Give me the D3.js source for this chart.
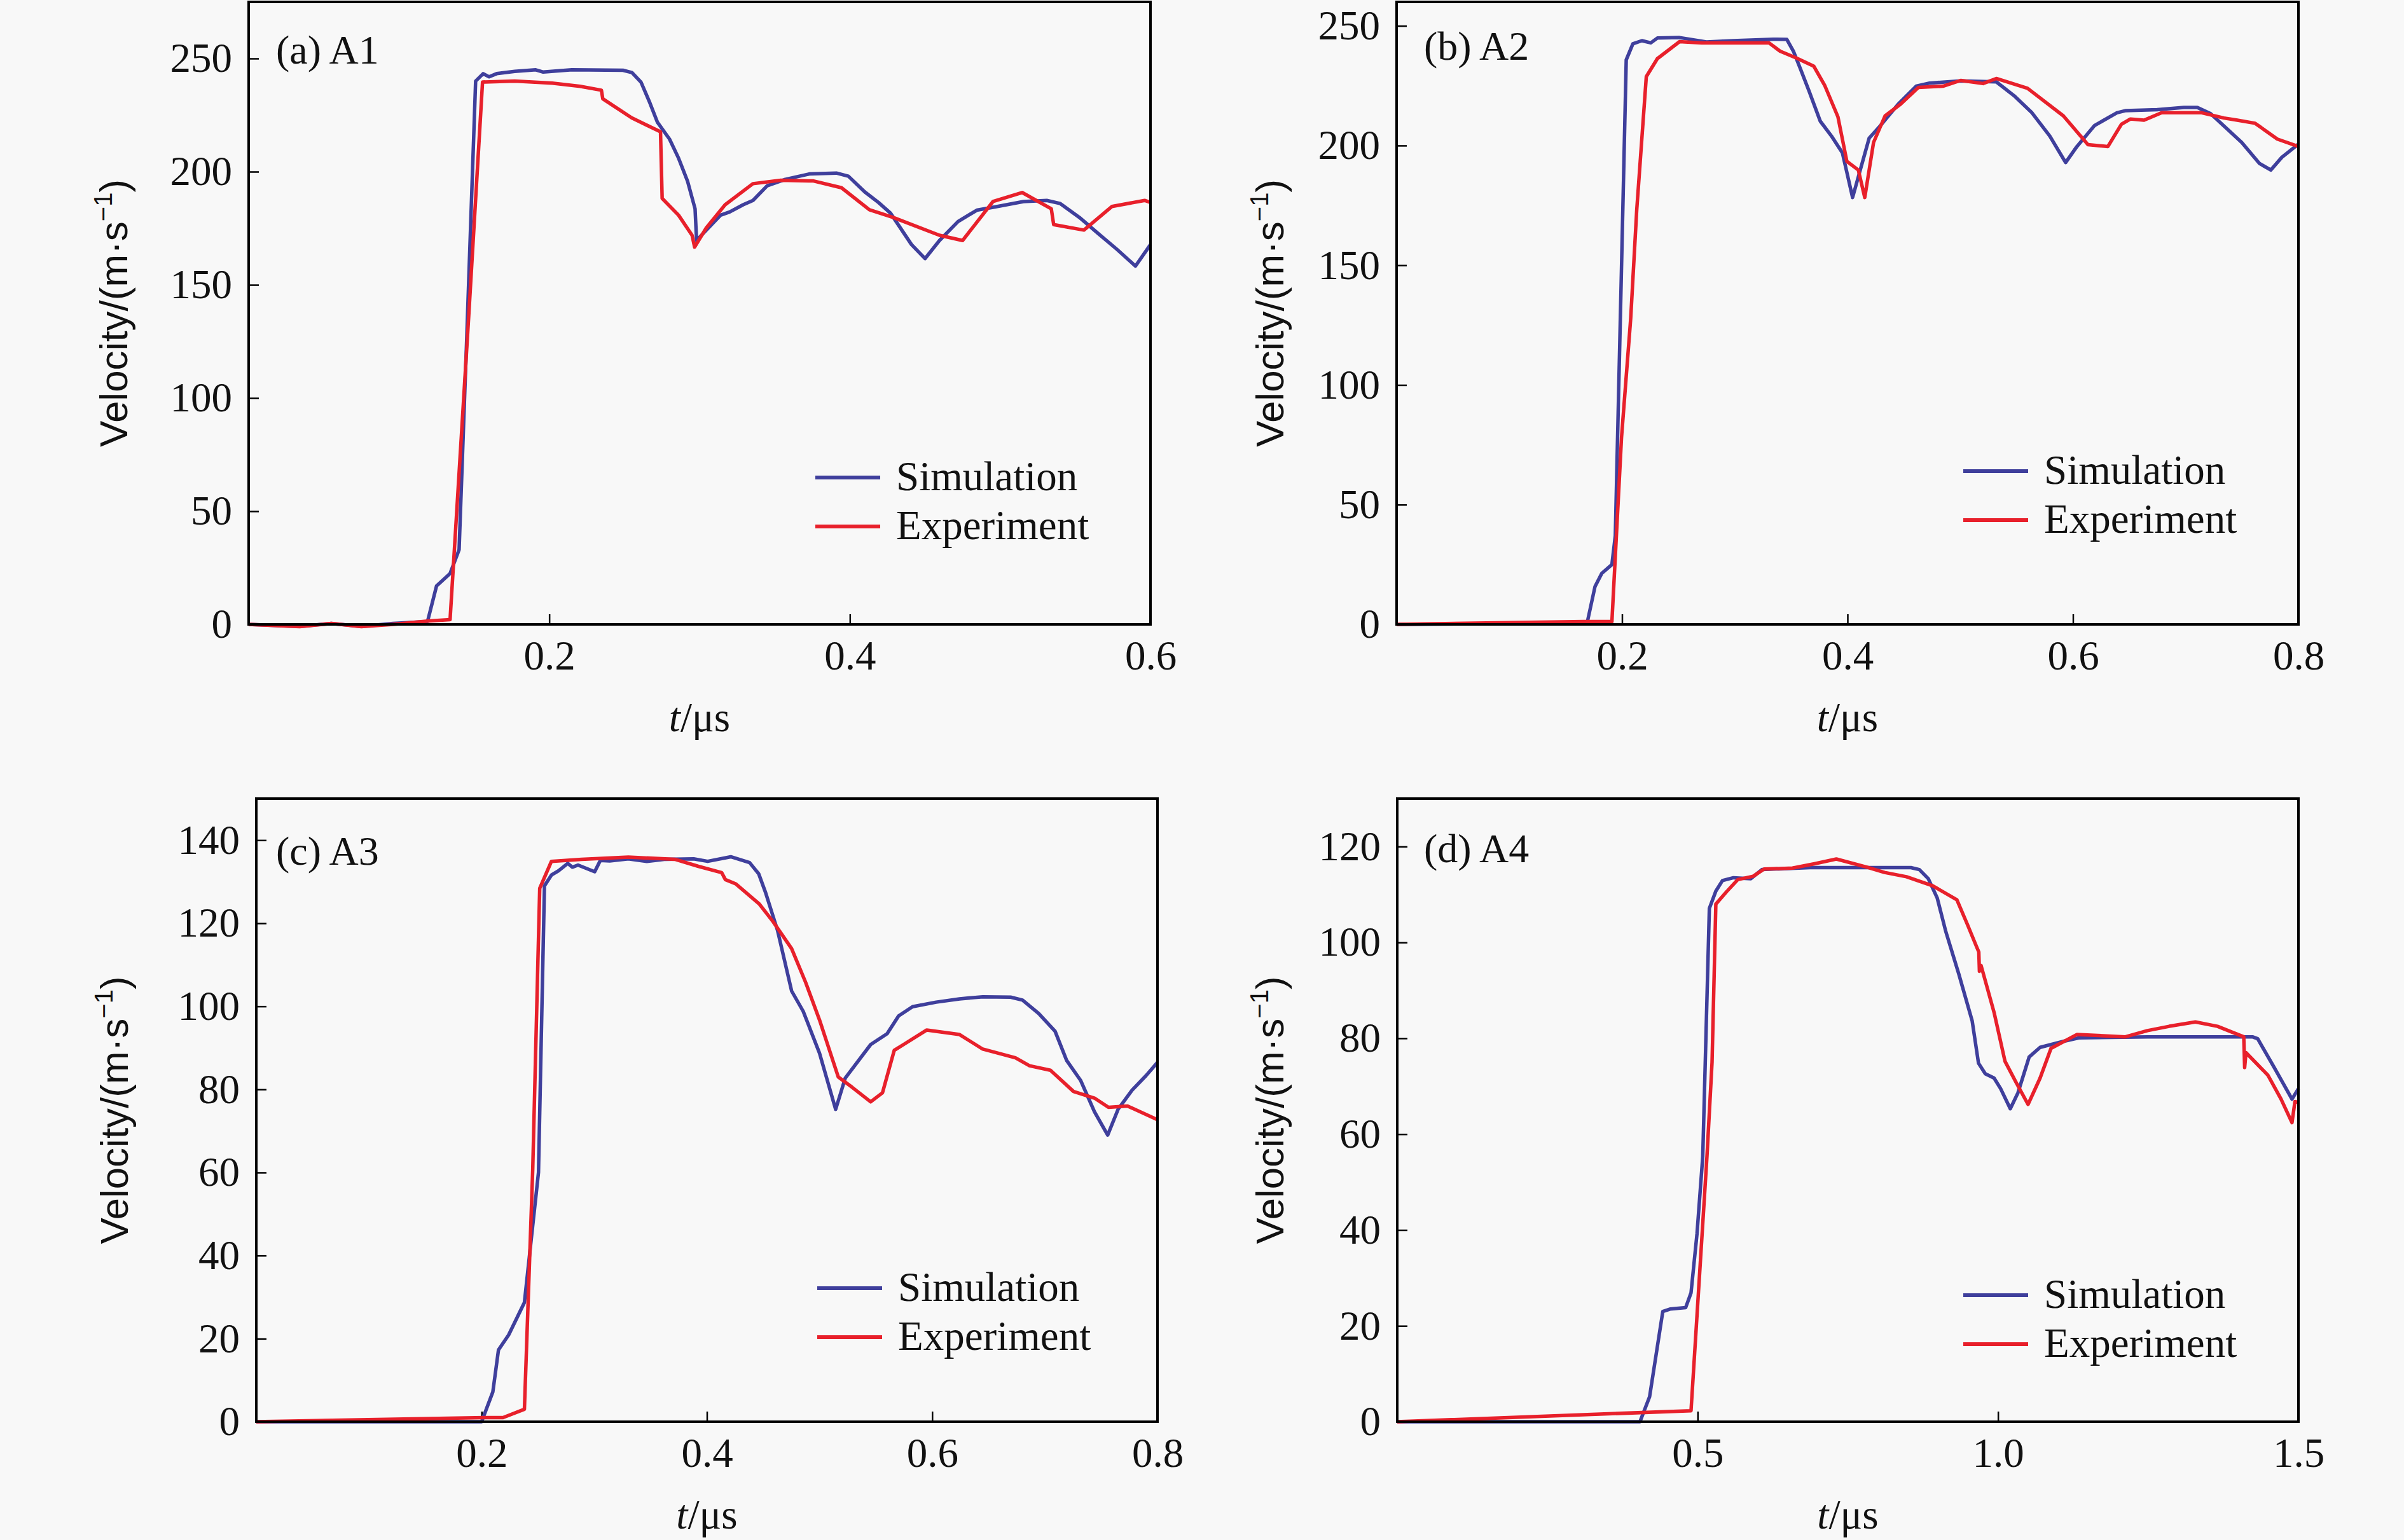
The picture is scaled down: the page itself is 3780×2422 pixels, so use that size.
<!DOCTYPE html>
<html>
<head>
<meta charset="utf-8">
<script src="https://d3js.org/d3.v7.min.js"></script>
<style>
    body { margin: 0; background: #f8f8f8; }
    svg { display: block; }
</style>
</head>
<body>
<div id="chart"></div>
<script>
// data: [t (us), velocity (m/s)]
var a1Simulation = [[0,0],[0.034,-0.9],[0.055,0.4],[0.075,-0.9],[0.096,0.4],[0.119,1.3],[0.125,17],[0.134,22.5],[0.14,33],[0.145,125],[0.151,240],[0.156,243.3],[0.16,241.9],[0.165,243.3],[0.177,244.3],[0.191,245],[0.196,244],[0.215,245],[0.249,244.8],[0.255,243.8],[0.261,239.6],[0.267,230.3],[0.272,221.8],[0.28,214.4],[0.286,206],[0.292,195.8],[0.297,183.6],[0.298,169.6],[0.3045,174.2],[0.314,180.8],[0.32,182.2],[0.329,185.4],[0.3355,187.3],[0.345,193.8],[0.357,196.6],[0.373,199],[0.391,199.4],[0.399,198],[0.41,191],[0.419,186.4],[0.427,181.7],[0.441,167.8],[0.45,161.6],[0.4596,169.6],[0.472,178],[0.4845,183],[0.497,184.5],[0.5155,186.8],[0.531,187.3],[0.54,185.9],[0.5527,179.8],[0.565,172.8],[0.5775,165.8],[0.59,158.3],[0.6,167.8]];
var a1Experiment = [[0,0],[0.034,-1],[0.055,0.4],[0.075,-1],[0.096,0],[0.119,1.5],[0.134,2.1],[0.1463,135],[0.1556,239.6],[0.177,240],[0.202,239.1],[0.2205,237.7],[0.2347,236],[0.2356,232.2],[0.2548,223.8],[0.274,217.6],[0.2751,188.2],[0.286,180.8],[0.295,171.9],[0.2967,166.7],[0.3045,175.2],[0.317,185.4],[0.3355,194.7],[0.354,196.2],[0.3758,195.9],[0.3944,192.9],[0.413,183.2],[0.4287,179.8],[0.4596,171.9],[0.475,169.6],[0.4952,186.8],[0.5146,190.8],[0.534,183.6],[0.5356,176.6],[0.5557,174.2],[0.5743,184.6],[0.5961,187.3],[0.6,186.4]];

var a2Simulation = [[0,0],[0.169,0.6],[0.176,15.8],[0.182,21.3],[0.191,25],[0.194,37],[0.199,138.7],[0.2037,235.8],[0.2096,242.5],[0.2176,243.8],[0.2255,242.9],[0.2313,244.9],[0.251,245.1],[0.2748,243.3],[0.2985,243.8],[0.3343,244.4],[0.3462,244.3],[0.352,239.4],[0.358,232.3],[0.366,222.6],[0.3758,210.2],[0.3857,204],[0.3955,196.9],[0.4045,178.3],[0.4113,189.8],[0.4192,203.1],[0.4293,208.4],[0.445,217.3],[0.461,224.8],[0.4728,226.1],[0.5004,227],[0.532,226.6],[0.5478,220.8],[0.5636,213.7],[0.5794,204],[0.5935,192.9],[0.6035,199.6],[0.6192,208.4],[0.639,213.7],[0.6469,214.6],[0.6746,215],[0.6984,215.9],[0.7103,215.9],[0.7221,213.3],[0.7497,201.3],[0.7655,192.5],[0.7755,189.8],[0.7853,195.1],[0.8,200.6]];
var a2Experiment = [[0,0],[0.166,1.2],[0.191,1.2],[0.1995,78],[0.2077,128],[0.213,173],[0.2215,228.8],[0.2313,236.3],[0.251,243.4],[0.2708,242.9],[0.3303,242.9],[0.3402,239.4],[0.354,236.7],[0.37,233.2],[0.3797,225.2],[0.3915,212],[0.3994,193.4],[0.4096,189.8],[0.4153,178.3],[0.4231,201.3],[0.4333,212.4],[0.4471,217.3],[0.4629,224.3],[0.4847,224.8],[0.5004,227.2],[0.5202,225.9],[0.532,228],[0.5597,223.9],[0.5915,212.4],[0.6133,200.4],[0.631,199.6],[0.643,208.9],[0.651,211.1],[0.663,210.6],[0.6787,213.7],[0.7142,213.7],[0.734,211.5],[0.7458,210.6],[0.7616,209.3],[0.7813,202.7],[0.8,199.6]];

var a3Simulation = [[0,0],[0.2,0],[0.21,7.2],[0.215,17.3],[0.224,20.9],[0.238,28.7],[0.2505,60],[0.2558,129],[0.262,131.6],[0.2682,132.6],[0.2765,134.4],[0.2806,133.5],[0.2856,134],[0.3004,132.4],[0.3054,135.1],[0.3137,135],[0.3303,135.5],[0.3467,134.9],[0.3634,135.4],[0.3883,135.5],[0.4007,134.9],[0.4212,136],[0.4379,134.6],[0.446,131.9],[0.4522,127.3],[0.4628,118.2],[0.4752,103.7],[0.4855,98.8],[0.5,88.7],[0.5143,75.2],[0.5228,82.7],[0.5454,90.8],[0.56,93.4],[0.5702,97.7],[0.5826,99.9],[0.6035,101],[0.6243,101.8],[0.6449,102.3],[0.6696,102.2],[0.6802,101.5],[0.6945,98.3],[0.7091,94],[0.7193,87],[0.7317,82.2],[0.7441,74.6],[0.7558,69],[0.765,75.2],[0.7774,79.8],[0.7898,83.3],[0.8,86.5]];
var a3Experiment = [[0,0],[0.202,1],[0.219,1],[0.238,3],[0.2454,60.8],[0.2516,128.4],[0.262,134.9],[0.2889,135.4],[0.3303,135.9],[0.3715,135.4],[0.3924,133.7],[0.4131,132.2],[0.4164,130.5],[0.4255,129.5],[0.4463,124.7],[0.4587,120.4],[0.4752,113.9],[0.4876,105.8],[0.5,96.7],[0.5166,83],[0.529,80.5],[0.5454,77],[0.5559,79.2],[0.5663,89.4],[0.5746,90.8],[0.5952,94.3],[0.6243,93.2],[0.6449,89.7],[0.6739,87.6],[0.6864,85.7],[0.705,84.6],[0.7255,79.5],[0.7441,77.9],[0.7565,75.7],[0.7734,76],[0.8,72.7]];

var a4Simulation = [[0,0],[0.404,0],[0.42,5.2],[0.442,23],[0.454,23.5],[0.48,23.8],[0.489,26.9],[0.499,39.3],[0.5085,55.3],[0.5195,107.1],[0.5303,110.7],[0.5413,112.9],[0.5596,113.5],[0.5886,113.3],[0.607,115.2],[0.687,115.6],[0.855,115.6],[0.869,115.2],[0.8839,113.3],[0.8987,109.3],[0.9132,102.2],[0.9347,93.4],[0.957,83.6],[0.9675,74.8],[0.9788,72.6],[0.9934,71.7],[1.0043,69.5],[1.0204,65.3],[1.0331,68.6],[1.0518,76.1],[1.07,78.1],[1.11,79.4],[1.1356,80.1],[1.2487,80.3],[1.4235,80.3],[1.4322,79.9],[1.4597,73.9],[1.4893,67.3],[1.5,69.5]];
var a4Experiment = [[0,0],[0.489,2.3],[0.5155,55.3],[0.524,75],[0.5303,108],[0.5483,110.6],[0.5668,113.1],[0.5924,113.8],[0.6107,115.3],[0.658,115.5],[0.6944,116.4],[0.7309,117.4],[0.782,115.7],[0.8111,114.6],[0.8476,113.7],[0.8913,111.8],[0.9315,108.9],[0.9495,103.6],[0.9643,99.1],[0.968,98],[0.969,94],[0.9717,95.2],[0.9934,85.4],[1.0116,75.2],[1.03,70.8],[1.05,66.2],[1.07,71.7],[1.0882,77.9],[1.1316,80.8],[1.212,80.3],[1.2487,81.6],[1.285,82.5],[1.3285,83.4],[1.3653,82.5],[1.409,80.3],[1.4105,73.9],[1.4127,77],[1.4492,72.3],[1.4711,67.3],[1.4893,62.4],[1.4942,66.8],[1.5,66.6]];

var a1XTicks = [0.2, 0.4, 0.6];
var a1YTicks = [0, 50, 100, 150, 200, 250];
var a2XTicks = [0.2, 0.4, 0.6, 0.8];
var a2YTicks = [0, 50, 100, 150, 200, 250];
var a3XTicks = [0.2, 0.4, 0.6, 0.8];
var a3YTicks = [0, 20, 40, 60, 80, 100, 120, 140];
var a4XTicks = [0.5, 1.0, 1.5];
var a4YTicks = [0, 20, 40, 60, 80, 100, 120];

var panelLabels = ['(a) A1', '(b) A2', '(c) A3', '(d) A4'];
var seriesNames = ['Simulation', 'Experiment'];
var seriesColors = ['#3f3f9c', '#e8202b'];

var SERIF = '"Liberation Serif", "Times New Roman", serif';
var SANS = '"Liberation Sans", Arial, sans-serif';

/**
 * One velocity panel: frame, inward ticks, two curves and a legend
 */
function VelocityChart(svg, opts) {
    var self = this;
    self.svg = svg;
    self.opts = opts;
    self.init();
}

VelocityChart.prototype.init = function () {
    var self = this;
    var o = self.opts;

    self.g = self.svg.append('g');

    self.xScale = d3.scaleLinear()
        .domain([0, o.xMax])
        .range([o.left, o.right]);

    self.yScale = d3.scaleLinear()
        .domain([0, o.yMax])
        .range([o.bottom, o.top]);

    self.update();
};

VelocityChart.prototype.update = function () {
    var self = this;
    var o = self.opts;

    // axes, ticks pointing into the plot
    var xAxis = d3.axisBottom(self.xScale)
        .tickValues(o.xTicks)
        .tickFormat(d3.format('.1f'))
        .tickSizeInner(-16)
        .tickSizeOuter(0)
        .tickPadding(25);

    var yAxis = d3.axisLeft(self.yScale)
        .tickValues(o.yTicks)
        .tickFormat(d3.format('d'))
        .tickSizeInner(-16)
        .tickSizeOuter(0)
        .tickPadding(26);

    var gx = self.g.append('g')
        .attr('transform', 'translate(0,' + o.bottom + ')')
        .call(xAxis);
    var gy = self.g.append('g')
        .attr('transform', 'translate(' + o.left + ',0)')
        .call(yAxis);

    [gx, gy].forEach(function (ax) {
        ax.select('.domain').remove();
        ax.attr('font-family', SERIF).attr('font-size', 65);
        ax.selectAll('.tick line').attr('stroke', '#000').attr('stroke-width', 2.5);
        ax.selectAll('.tick text').attr('fill', '#111');
    });

    // curves
    var line = d3.line()
        .x(function (d) { return self.xScale(d[0]); })
        .y(function (d) { return self.yScale(d[1]); });

    self.g.selectAll('.curve')
        .data(o.series)
        .enter().append('path')
        .attr('class', 'curve')
        .attr('d', function (d) { return line(d); })
        .attr('fill', 'none')
        .attr('stroke', function (d, i) { return seriesColors[i]; })
        .attr('stroke-width', 5.5)
        .attr('stroke-linejoin', 'round');

    // frame
    self.g.append('rect')
        .attr('x', o.left)
        .attr('y', o.top)
        .attr('width', o.right - o.left)
        .attr('height', o.bottom - o.top)
        .attr('fill', 'none')
        .attr('stroke', '#000')
        .attr('stroke-width', 4);

    // panel label
    self.g.append('text')
        .attr('x', o.labelX)
        .attr('y', o.labelY)
        .attr('font-family', SERIF)
        .attr('font-size', 64)
        .attr('fill', '#111')
        .text(o.label);

    // legend
    var leg = self.g.selectAll('.legend')
        .data(seriesNames)
        .enter().append('g')
        .attr('class', 'legend')
        .attr('transform', function (d, i) {
            return 'translate(' + o.legendX + ',' + (o.legendY + i * 77) + ')';
        });
    leg.append('line')
        .attr('x1', 0).attr('x2', 102)
        .attr('stroke', function (d, i) { return seriesColors[i]; })
        .attr('stroke-width', 6);
    leg.append('text')
        .attr('x', 127)
        .attr('y', 20)
        .attr('font-family', SERIF)
        .attr('font-size', 65)
        .attr('fill', '#111')
        .text(function (d) { return d; });

    // axis titles
    var xt = self.g.append('text')
        .attr('x', (o.left + o.right) / 2)
        .attr('y', o.bottom + 168)
        .attr('text-anchor', 'middle')
        .attr('font-family', SERIF)
        .attr('font-size', 65)
        .attr('fill', '#111');
    xt.append('tspan').attr('font-style', 'italic').text('t');
    xt.append('tspan').text('/\u03bcs');

    var yt = self.g.append('text')
        .attr('transform', 'translate(' + o.yTitleX + ',' + ((o.top + o.bottom) / 2) + ') rotate(-90)')
        .attr('text-anchor', 'middle')
        .attr('font-family', SANS)
        .attr('font-size', 62)
        .attr('fill', '#111');
    yt.append('tspan').text('Velocity/(m\u00b7s');
    yt.append('tspan').attr('font-size', 40).attr('dy', -24).text('\u22121');
    yt.append('tspan').attr('dy', 24).text(')');
};

var W = 3780, H = 2422;
var svg = d3.select('#chart').append('svg')
    .attr('width', W)
    .attr('height', H);

svg.append('rect').attr('width', W).attr('height', H).attr('fill', '#f8f8f8');

var panels = [
    {series: [a1Simulation, a1Experiment], xTicks: a1XTicks, yTicks: a1YTicks, xMax: 0.6, yMax: 275,
        left: 391, right: 1809, top: 3, bottom: 982, yTitleX: 200, labelX: 434, labelY: 100, legendX: 1282, legendY: 751},
    {series: [a2Simulation, a2Experiment], xTicks: a2XTicks, yTicks: a2YTicks, xMax: 0.8, yMax: 260,
        left: 2196, right: 3614, top: 3, bottom: 982, yTitleX: 2018, labelX: 2239, labelY: 94, legendX: 3087, legendY: 741},
    {series: [a3Simulation, a3Experiment], xTicks: a3XTicks, yTicks: a3YTicks, xMax: 0.8, yMax: 150,
        left: 403, right: 1820, top: 1256, bottom: 2236, yTitleX: 201, labelX: 434, labelY: 1360, legendX: 1285, legendY: 2026},
    {series: [a4Simulation, a4Experiment], xTicks: a4XTicks, yTicks: a4YTicks, xMax: 1.5, yMax: 130,
        left: 2197, right: 3614, top: 1256, bottom: 2236, yTitleX: 2018, labelX: 2239, labelY: 1356, legendX: 3087, legendY: 2037}
];

panels.forEach(function (p, i) {
    p.label = panelLabels[i];
    new VelocityChart(svg, p);
});
</script>
</body>
</html>
